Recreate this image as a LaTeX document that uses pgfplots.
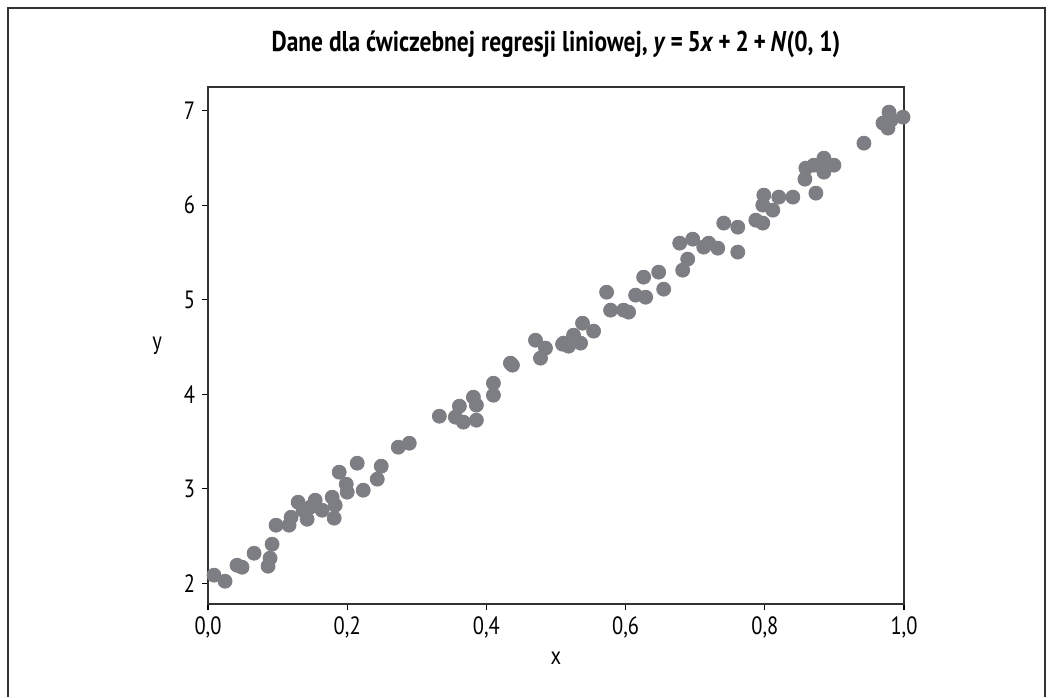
\documentclass[border=0pt]{standalone}
\usepackage{fontspec}
\setmainfont{PT Sans}[FakeStretch=0.82]
\usepackage{pgfplots}
\pgfplotsset{compat=1.18}
\definecolor{dotgray}{RGB}{125,126,131}
\definecolor{axgray}{RGB}{50,50,50}

\begin{document}
\begin{tikzpicture}
  % page frame, 1px = 0.5pt
  \useasboundingbox (0,0) rectangle (526.5pt,348.5pt);
  \draw[line width=1pt, axgray] (4pt,0pt) -- (4pt,344.5pt) -- (522.5pt,344.5pt) -- (522.5pt,0pt);
  \begin{axis}[
    at={(104pt,46.5pt)}, anchor=south west,
    scale only axis,
    width=348pt, height=258.5pt,
    xmin=0, xmax=1, ymin=1.78, ymax=7.25,
    xtick={0,0.2,0.4,0.6,0.8,1.0},
    ytick={2,3,4,5,6,7},
    axis line style={line width=1pt, axgray},
    tick style={line width=0.6pt, black},
    tick align=outside, major tick length=3pt,
    xtick pos=bottom, ytick pos=left,
    xticklabel style={/pgf/number format/.cd, fixed, fixed zerofill, precision=1, use comma},
    /pgf/number format/assume math mode=true,
    tick label style={font=\fontsize{12.5}{14}\selectfont},
    label style={font=\fontsize{12.5}{14}\selectfont},
    xlabel={x}, ylabel={y},
    ylabel style={rotate=-90, at={(ticklabel cs:0.5)}, anchor=east, xshift=-4pt},
    title={Dane dla ćwiczebnej regresji liniowej, \textit{y}\,=\,5\textit{x}\,+\,2\,+\,\textit{N}(0, 1)},
    title style={font=\bfseries\fontsize{14.3}{16}\selectfont, yshift=5pt},
  ]
    \addplot[only marks, mark=*, mark size=3.5pt, dotgray, mark options={draw=dotgray, fill=dotgray}] coordinates {
      (0.0086,2.085) (0.0245,2.021) (0.0417,2.190) (0.0489,2.169) (0.0662,2.317)
      (0.0863,2.180) (0.0892,2.265) (0.0921,2.413) (0.0978,2.614) (0.1165,2.614)
      (0.1194,2.698) (0.1295,2.857) (0.1367,2.772) (0.1424,2.677) (0.1468,2.804)
      (0.1540,2.878) (0.1640,2.772) (0.1784,2.910) (0.1827,2.825) (0.1813,2.688)
      (0.1885,3.175) (0.1986,3.048) (0.2000,2.963) (0.2144,3.270) (0.2230,2.984)
      (0.2432,3.101) (0.2489,3.238) (0.2734,3.439) (0.2892,3.481) (0.3324,3.767)
      (0.3554,3.757) (0.3612,3.873) (0.3669,3.704) (0.3813,3.968) (0.3856,3.884)
      (0.3856,3.725) (0.4101,4.116) (0.4101,3.989) (0.4345,4.328) (0.4374,4.307)
      (0.4705,4.571) (0.4849,4.487) (0.4777,4.381) (0.5094,4.529) (0.5180,4.508)
      (0.5252,4.624) (0.5353,4.540) (0.5381,4.751) (0.5540,4.667) (0.5108,4.540)
      (0.5727,5.079) (0.5784,4.889) (0.5971,4.889) (0.6043,4.868) (0.6144,5.048)
      (0.6288,5.026) (0.6259,5.238) (0.6475,5.291) (0.6547,5.111) (0.6820,5.312)
      (0.6892,5.429) (0.6777,5.598) (0.6964,5.640) (0.7122,5.556) (0.7194,5.598)
      (0.7324,5.545) (0.7410,5.810) (0.7612,5.767) (0.7612,5.503) (0.7871,5.841)
      (0.7971,5.810) (0.7986,6.106) (0.7971,6.000) (0.8115,5.947) (0.8201,6.085)
      (0.8403,6.085) (0.8734,6.127) (0.8576,6.275) (0.8590,6.392) (0.8705,6.423)
      (0.8849,6.497) (0.8993,6.423) (0.8849,6.349) (0.9424,6.656) (0.9784,6.984)
      (0.9698,6.868) (0.9770,6.815) (0.9986,6.931) (0.9813,6.899)
    };
  \end{axis}
\end{tikzpicture}
\end{document}
